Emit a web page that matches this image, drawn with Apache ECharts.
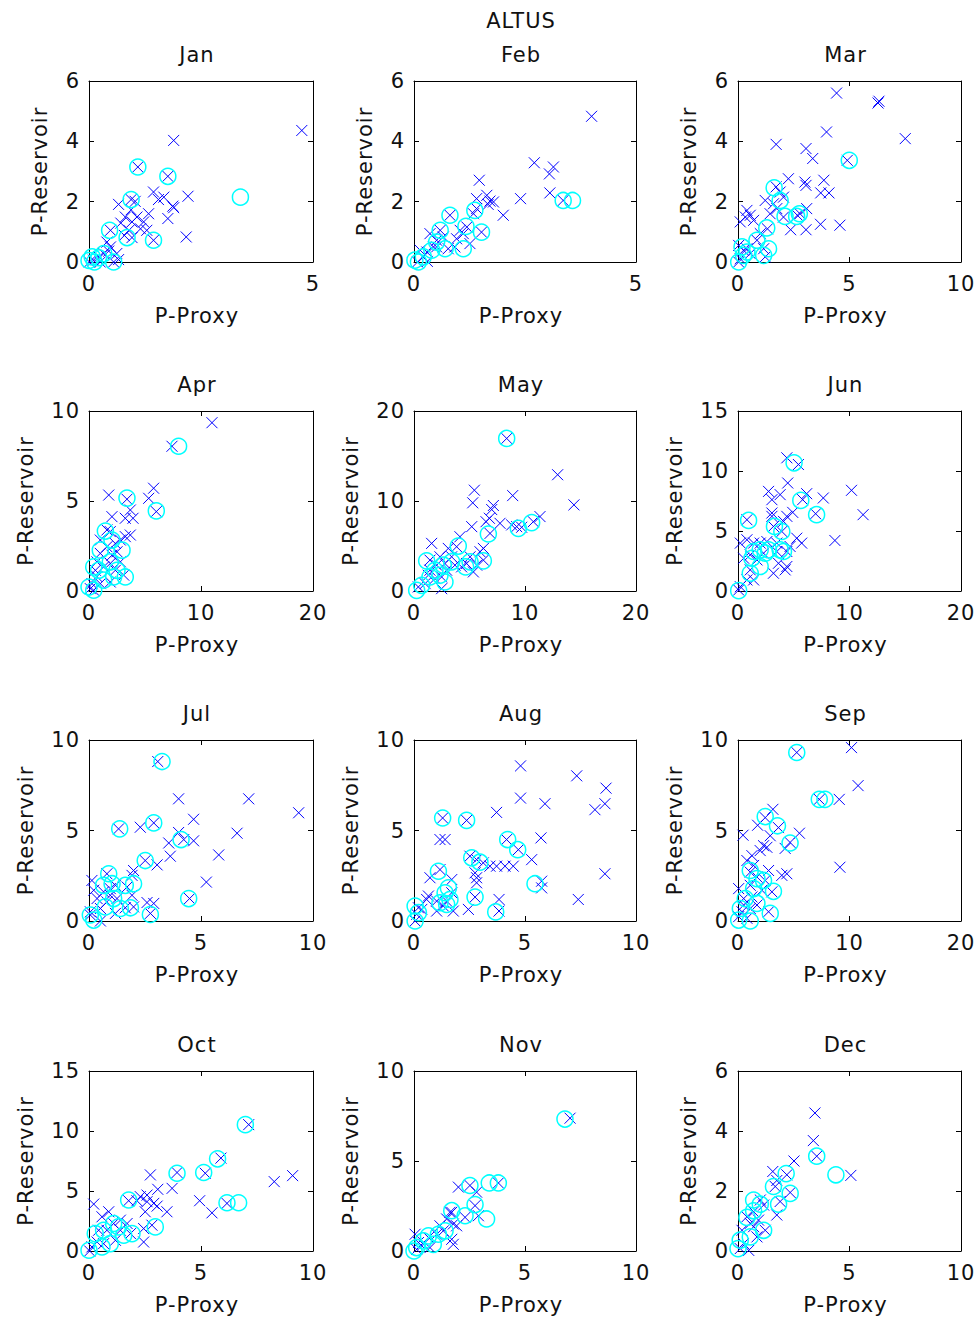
<!DOCTYPE html>
<html>
<head>
<meta charset="utf-8">
<script src="https://cdn.jsdelivr.net/npm/echarts@6/dist/echarts.min.js"></script>
<style>
  html, body { margin: 0; padding: 0; background: #fff; }
  #chart { width: 978px; height: 1321px; letter-spacing: 1px; }
</style>
</head>
<body>
<div id="chart"></div>
<script>
// Station and panel labels
const stationName = 'ALTUS';
const months = ['Jan', 'Feb', 'Mar', 'Apr', 'May', 'Jun', 'Jul', 'Aug', 'Sep', 'Oct', 'Nov', 'Dec'];
const xAxisTitle = 'P-Proxy';
const yAxisTitle = 'P-Reservoir';

// Axis ranges and tick steps per month
const xAxisMax  = [5, 5, 10, 20, 20, 20, 10, 10, 20, 10, 10, 10];
const xAxisStep = [5, 5, 5, 10, 10, 10, 5, 5, 10, 5, 5, 5];
const yAxisMax  = [6, 6, 6, 10, 20, 15, 10, 10, 10, 15, 10, 6];
const yAxisStep = [2, 2, 2, 5, 10, 5, 5, 5, 5, 5, 5, 2];

// Monthly pairs [proxy, reservoir]: crosses (all pairs) and rings (highlighted pairs)
const janCross = [[4.75,4.36],[1.89,4.03],[1.09,3.15],[1.76,2.84],[2.21,2.18],[1.44,2.32],[1.55,2.07],[1.67,2.15],[1.89,1.8],[1.87,1.85],[1.76,1.44],[2.17,0.83],[1.44,0.72],[0.94,2.07],[1.03,2.01],[0.66,1.91],[0.94,1.73],[1.33,1.6],[1.22,1.33],[1.07,1.49],[0.96,1.33],[0.81,1.49],[0.71,1.29],[1.15,1.1],[1.29,1.05],[0.89,1.05],[0.79,0.88],[0.48,1.05],[0.96,0.81],[0.4,0.66],[0.48,0.5],[0.62,0.28],[0.66,0.08],[0.33,0.28],[0.22,0.17],[0.1,0.06],[0.01,0.0],[0.25,0.0],[0.55,0.0],[0.44,0.36]];
const janRing  = [[1.09,3.15],[1.76,2.84],[3.38,2.15],[0.94,2.07],[1.44,0.72],[0.46,1.05],[0.85,0.81],[0.55,0.0],[0.0,0.05],[0.12,0.0],[0.22,0.14],[0.33,0.28],[0.25,-0.05],[0.07,0.17]];

const febCross = [[4.0,4.83],[2.71,3.29],[3.14,3.15],[3.05,2.92],[3.06,2.29],[3.36,2.04],[2.4,2.1],[1.47,2.71],[1.41,2.1],[1.64,2.21],[1.71,2.02],[1.79,1.99],[1.67,1.91],[2.01,1.55],[1.41,1.77],[1.34,1.6],[0.81,1.55],[1.52,0.99],[1.19,1.16],[1.11,0.94],[1.26,0.61],[0.96,0.77],[0.77,0.44],[0.66,0.83],[0.51,0.72],[0.59,1.05],[0.36,0.94],[0.44,0.5],[0.29,0.33],[0.21,0.17],[0.08,0.0],[0.3,0.02],[1.04,1.05],[0.92,0.5],[0.51,0.5],[0.14,0.39]];
const febRing  = [[3.36,2.04],[3.57,2.04],[1.37,1.71],[0.81,1.55],[1.52,0.99],[1.17,1.18],[1.11,0.44],[0.59,1.05],[0.51,0.66],[0.7,0.44],[0.1,0.0],[0.02,0.06],[0.21,0.17],[0.4,0.39]];

const marCross = [[4.42,5.6],[6.32,5.33],[6.28,5.27],[7.5,4.09],[3.97,4.31],[1.71,3.9],[3.05,3.76],[3.35,3.43],[4.9,3.37],[2.26,2.76],[3.0,2.65],[3.05,2.54],[3.85,2.71],[3.71,2.29],[4.08,2.29],[1.71,2.49],[1.89,2.32],[2.04,2.15],[3.08,1.77],[2.78,1.6],[2.66,1.55],[1.22,2.04],[1.59,1.93],[1.74,1.77],[1.44,1.6],[2.04,1.49],[2.36,1.07],[3.05,1.07],[3.7,1.25],[4.57,1.22],[1.32,1.1],[0.4,1.71],[0.55,1.55],[0.33,1.49],[0.7,1.38],[0.1,1.33],[1.0,0.94],[0.85,0.72],[1.15,0.44],[0.03,0.55],[0.25,0.39],[0.55,0.28],[0.1,0.11],[0.03,0.0],[1.22,0.17],[0.4,0.44]];
const marRing  = [[4.99,3.37],[1.62,2.46],[1.89,2.04],[2.11,1.51],[2.75,1.6],[2.63,1.51],[1.29,1.13],[1.37,0.44],[1.15,0.22],[0.85,0.72],[0.18,0.5],[0.4,0.33],[0.03,0.0],[0.25,0.22]];

const aprCross = [[10.98,9.35],[7.41,8.04],[5.77,5.71],[5.33,5.15],[1.76,5.33],[3.39,5.1],[6.01,4.41],[3.69,4.5],[2.05,4.13],[3.24,4.04],[3.93,4.04],[1.9,3.3],[1.6,3.39],[3.69,3.11],[3.24,3.02],[2.8,2.83],[2.35,2.64],[1.01,2.83],[1.6,2.46],[1.01,2.09],[2.05,1.99],[2.5,2.18],[0.71,1.62],[1.31,1.34],[1.9,1.53],[2.35,1.15],[3.1,0.88],[0.71,0.8],[1.9,0.5],[0.27,0.41],[0.12,0.13],[0.42,0.04],[1.01,0.41],[2.8,1.62],[0.57,1.15]];
const aprRing  = [[8.0,8.04],[3.39,5.16],[6.01,4.45],[1.46,3.33],[2.95,2.27],[1.01,2.27],[2.05,2.83],[0.42,1.34],[1.9,1.62],[0.86,1.15],[3.24,0.78],[2.2,0.78],[1.31,0.6],[0.0,0.22],[0.42,0.04],[2.5,1.15]];

const mayCross = [[8.35,16.95],[12.94,12.92],[14.41,9.57],[5.44,11.2],[5.29,9.8],[8.89,10.6],[7.15,9.5],[7.0,9.05],[6.79,8.08],[6.49,7.7],[7.75,7.52],[5.2,7.15],[9.25,7.15],[9.7,7.08],[10.75,7.7],[11.35,8.27],[8.8,7.34],[6.85,6.4],[4.14,6.03],[1.59,5.29],[3.84,4.92],[3.09,4.73],[5.95,4.36],[6.25,4.73],[5.05,3.8],[4.74,3.05],[5.65,2.87],[5.35,2.12],[2.34,3.8],[2.04,2.87],[2.79,3.05],[1.44,2.31],[2.94,2.31],[3.69,2.87],[2.49,1.56],[1.89,1.38],[1.0,0.82],[1.29,1.75],[2.49,0.26],[0.39,0.45],[6.25,3.43],[4.29,2.68],[3.39,3.8],[1.44,3.43]];
const mayRing  = [[8.35,16.95],[6.7,6.33],[9.4,6.96],[10.6,7.6],[3.99,4.99],[1.14,3.35],[6.25,3.35],[4.65,2.68],[2.64,2.87],[3.39,3.24],[1.89,2.31],[1.44,1.56],[2.34,1.75],[2.79,1.0],[0.24,0.07],[5.05,3.24],[0.69,0.63]];

const junCross = [[4.38,11.1],[5.42,10.54],[10.18,8.39],[4.46,9.0],[2.74,8.3],[3.78,8.03],[3.04,7.61],[6.16,8.11],[5.8,7.61],[7.65,7.75],[6.96,6.44],[11.22,6.36],[3.04,6.5],[4.38,6.22],[4.91,6.55],[4.08,5.8],[0.8,5.94],[3.93,4.96],[3.18,5.38],[8.69,4.21],[5.71,3.99],[0.21,3.99],[0.8,4.27],[1.4,3.99],[1.99,3.99],[2.59,4.12],[3.48,3.99],[4.67,3.71],[4.38,3.29],[3.48,3.29],[2.29,3.15],[1.1,3.01],[0.51,2.73],[1.7,2.59],[3.63,2.31],[4.38,2.04],[4.23,1.76],[3.18,1.48],[1.1,1.76],[1.4,0.92],[0.8,0.92],[0.21,0.36],[0.06,0.08],[3.04,6.22],[5.27,4.4]];
const junRing  = [[5.03,10.68],[5.63,7.55],[7.05,6.36],[0.95,5.88],[3.27,5.38],[3.93,4.96],[1.99,3.43],[2.74,3.43],[1.4,3.29],[4.08,3.29],[3.78,3.43],[1.25,2.73],[1.99,2.04],[1.1,1.48],[0.06,0.03],[2.44,3.15]];

const julCross = [[3.07,8.81],[4.0,6.75],[7.13,6.75],[9.36,5.98],[4.67,5.62],[1.32,5.09],[2.29,5.18],[2.89,5.42],[4.0,4.89],[4.23,4.5],[4.67,4.43],[3.56,4.31],[6.61,4.85],[5.79,3.65],[2.51,3.34],[3.63,3.58],[3.04,3.1],[5.24,2.15],[4.49,1.24],[1.99,2.79],[1.92,2.52],[0.13,2.24],[0.8,2.61],[1.18,1.97],[0.95,1.79],[0.65,1.61],[0.21,1.7],[1.7,1.88],[1.92,1.42],[1.25,1.24],[0.8,1.06],[2.59,1.02],[2.89,0.97],[1.99,0.78],[2.74,0.42],[1.62,0.73],[0.51,0.69],[1.18,0.42],[0.06,0.33],[0.51,0.0],[0.06,0.51],[0.95,1.42],[0.36,1.24]];
const julRing  = [[3.26,8.81],[2.89,5.42],[1.37,5.09],[4.11,4.5],[2.51,3.34],[0.88,2.61],[1.99,2.06],[1.62,1.97],[1.03,2.06],[0.65,1.97],[4.45,1.24],[1.85,0.73],[1.4,0.69],[0.73,0.78],[2.74,0.36],[0.06,0.33],[0.21,0.05],[1.1,1.24]];

const augCross = [[4.8,8.57],[7.33,8.02],[8.65,7.34],[4.8,6.79],[5.9,6.48],[8.6,6.48],[8.15,6.15],[3.72,6.0],[1.29,5.69],[2.37,5.56],[5.72,4.59],[1.17,4.5],[1.4,4.5],[4.17,4.5],[4.7,3.94],[5.3,3.39],[2.52,3.58],[2.82,3.39],[3.12,3.21],[3.42,3.03],[3.72,3.03],[4.1,3.03],[4.47,3.03],[2.75,2.66],[2.82,2.39],[2.82,2.11],[1.17,2.84],[0.72,2.39],[1.7,2.29],[5.75,2.2],[5.75,1.83],[8.6,2.61],[7.4,1.19],[3.83,1.19],[3.83,0.55],[2.75,1.32],[2.45,0.64],[0.65,1.38],[0.57,1.19],[1.02,1.1],[1.47,1.1],[1.7,1.56],[1.32,0.83],[1.77,0.55],[1.02,0.55],[0.2,0.73],[0.12,0.37],[0.05,0.0],[0.35,0.64]];
const augRing  = [[1.29,5.69],[2.37,5.56],[4.22,4.5],[4.67,3.94],[2.6,3.49],[2.97,3.25],[1.1,2.75],[5.45,2.06],[1.55,1.83],[1.4,1.56],[2.75,1.32],[1.47,0.92],[1.17,1.01],[3.68,0.5],[0.05,0.83],[0.2,0.46],[0.05,0.0],[1.62,1.19]];

const sepCross = [[5.27,9.31],[10.18,9.58],[10.77,7.48],[9.08,6.72],[7.29,6.72],[9.14,2.97],[3.13,6.17],[2.44,5.71],[1.76,5.29],[3.63,5.16],[5.51,4.85],[0.45,4.74],[2.89,4.71],[4.67,4.34],[4.23,4.01],[2.29,4.16],[2.59,4.07],[1.99,3.89],[1.25,3.61],[0.8,3.34],[1.4,3.07],[2.74,2.79],[3.93,2.52],[4.38,2.61],[1.1,2.7],[1.7,2.43],[2.44,2.24],[0.06,1.79],[1.1,1.97],[2.14,1.7],[3.04,1.61],[1.25,1.33],[1.7,0.88],[2.74,0.51],[0.51,0.88],[0.36,0.51],[0.06,0.24],[0.8,0.15],[1.1,0.69],[0.51,1.24]];
const sepRing  = [[5.27,9.31],[7.29,6.72],[7.8,6.72],[2.44,5.77],[3.54,5.26],[4.67,4.31],[1.1,2.79],[1.7,2.34],[2.29,2.24],[3.18,1.64],[1.4,1.79],[0.65,1.24],[1.7,0.97],[2.89,0.42],[0.06,0.05],[1.1,0.0],[0.21,0.69]];

const octCross = [[7.13,10.53],[5.89,7.74],[9.09,6.28],[8.27,5.78],[5.19,6.48],[3.93,6.54],[2.74,6.34],[3.71,5.22],[3.07,5.14],[4.94,4.19],[6.16,3.97],[5.49,3.18],[3.48,3.27],[3.04,3.74],[2.59,4.66],[2.29,4.53],[2.59,4.11],[2.51,3.27],[2.89,3.97],[1.77,4.19],[2.14,4.19],[2.81,2.15],[2.44,1.87],[2.44,0.75],[1.85,1.45],[0.21,3.91],[0.58,2.85],[0.88,3.27],[1.4,2.57],[1.1,2.29],[0.43,1.73],[0.8,1.73],[1.18,0.89],[0.65,0.61],[0.13,0.34],[0.03,0.0],[0.36,0.75],[1.4,1.73],[1.7,2.29]];
const octRing  = [[6.98,10.53],[5.74,7.68],[3.93,6.48],[5.12,6.54],[1.77,4.25],[6.16,4.02],[6.68,4.02],[2.96,2.01],[1.92,1.45],[1.1,2.29],[1.32,2.01],[0.65,1.73],[0.28,1.45],[0.95,0.61],[0.0,0.06],[0.58,0.34],[1.55,1.31]];

const novCross = [[7.03,7.38],[3.8,3.78],[2.52,3.64],[2.0,3.55],[2.82,3.27],[2.75,2.52],[2.9,1.96],[2.3,1.87],[1.7,2.15],[1.47,1.78],[1.77,1.5],[1.32,1.12],[1.17,1.4],[1.02,0.93],[1.77,0.37],[1.7,0.65],[0.65,0.75],[0.42,0.37],[0.05,0.93],[0.2,0.47],[0.12,0.09],[0.72,0.19],[1.62,2.15],[1.92,1.4]];
const novRing  = [[6.8,7.33],[3.39,3.78],[3.8,3.78],[2.52,3.64],[2.75,2.58],[3.27,1.78],[2.3,1.96],[1.7,2.24],[1.4,1.12],[1.1,0.93],[0.65,0.84],[0.42,0.56],[0.12,0.19],[0.0,0.0],[0.87,0.37]];

const decCross = [[3.45,4.6],[3.38,3.68],[3.53,3.16],[5.06,2.52],[2.51,3.0],[1.56,2.65],[2.19,2.54],[1.74,2.35],[1.67,2.15],[2.34,1.95],[1.89,1.65],[1.74,1.2],[1.0,1.7],[1.15,1.53],[0.7,1.31],[0.4,1.14],[0.55,0.92],[1.22,0.69],[0.85,0.47],[0.25,0.25],[0.1,0.08],[0.48,0.02],[0.18,0.69],[0.7,0.81],[0.92,1.03]];
const decRing  = [[3.53,3.16],[4.39,2.54],[2.16,2.58],[1.59,2.15],[2.34,1.92],[1.82,1.56],[1.0,1.56],[0.7,1.34],[0.4,1.12],[1.15,0.69],[0.55,0.47],[0.1,0.36],[0.0,0.08],[0.7,1.7]];

const crossSets = [janCross, febCross, marCross, aprCross, mayCross, junCross, julCross, augCross, sepCross, octCross, novCross, decCross];
const ringSets  = [janRing, febRing, marRing, aprRing, mayRing, junRing, julRing, augRing, sepRing, octRing, novRing, decRing];

// Panel layout (pixels)
const colLeft = [89, 414, 738];
const colWidth = [224, 222, 223];
const rowTop = [81, 411, 740, 1071];
const rowHeight = [181, 180, 181, 180];

const FONT = 'DejaVu Sans';
const FS = 21;
const INK = '#111';

const grids = [], xAxes = [], yAxes = [], series = [], texts = [];

months.forEach((m, i) => {
  const c = i % 3, r = Math.floor(i / 3);
  grids.push({ left: colLeft[c], top: rowTop[r], width: colWidth[c], height: rowHeight[r], show: false });
  texts.push({
    type: 'text', x: colLeft[c] + colWidth[c] / 2 - 4, y: rowTop[r] - 26,
    style: { text: m, fontFamily: FONT, fontSize: FS, fill: INK, align: 'center', verticalAlign: 'middle' }
  });
});

const tickStyle = { inside: true, length: 5, lineStyle: { color: '#000', width: 1 } };
const lineStyle = { show: true, onZero: false, lineStyle: { color: '#000', width: 1 } };

// Bottom/left axes with labels; the y title sits further out when tick labels have two digits
months.forEach((m, i) => {
  xAxes.push({
    gridIndex: i, type: 'value', min: 0, max: xAxisMax[i], interval: xAxisStep[i],
    position: 'bottom', axisLine: lineStyle, axisTick: tickStyle, splitLine: { show: false },
    axisLabel: { color: INK, fontFamily: FONT, fontSize: FS, margin: 11 },
    name: xAxisTitle, nameLocation: 'middle', nameGap: 43,
    nameTextStyle: { color: INK, fontFamily: FONT, fontSize: FS, padding: [0, 8, 0, 0] }
  });
  yAxes.push({
    gridIndex: i, type: 'value', min: 0, max: yAxisMax[i], interval: yAxisStep[i],
    position: 'left', axisLine: lineStyle, axisTick: tickStyle, splitLine: { show: false },
    axisLabel: { color: INK, fontFamily: FONT, fontSize: FS, margin: 9 },
    name: yAxisTitle, nameLocation: 'middle', nameGap: yAxisMax[i] >= 10 ? 53 : 39, nameRotate: 90,
    nameTextStyle: { color: INK, fontFamily: FONT, fontSize: FS }
  });
});
// Top/right mirror axes close the box and repeat the ticks
months.forEach((m, i) => {
  xAxes.push({
    gridIndex: i, type: 'value', min: 0, max: xAxisMax[i], interval: xAxisStep[i],
    position: 'top', axisLine: lineStyle, axisTick: tickStyle, splitLine: { show: false },
    axisLabel: { show: false }
  });
  yAxes.push({
    gridIndex: i, type: 'value', min: 0, max: yAxisMax[i], interval: yAxisStep[i],
    position: 'right', axisLine: lineStyle, axisTick: tickStyle, splitLine: { show: false },
    axisLabel: { show: false }
  });
});

months.forEach((m, i) => {
  series.push({
    type: 'scatter', xAxisIndex: i, yAxisIndex: i, data: crossSets[i],
    symbol: 'path://M0,0L10,10M10,0L0,10', symbolSize: 11,
    itemStyle: { color: 'rgba(0,0,0,0)', borderColor: '#0000ff', borderWidth: 1, opacity: 1 },
    emphasis: { disabled: true }, z: 2
  });
});
months.forEach((m, i) => {
  series.push({
    type: 'scatter', xAxisIndex: i, yAxisIndex: i, data: ringSets[i],
    symbol: 'circle', symbolSize: 16,
    itemStyle: { color: 'rgba(0,0,0,0)', borderColor: '#00ffff', borderWidth: 1.5, opacity: 1 },
    emphasis: { disabled: true }, z: 3
  });
});

texts.push({
  type: 'text', x: 521, y: 21,
  style: { text: stationName, fontFamily: FONT, fontSize: FS, fill: INK, align: 'center', verticalAlign: 'middle' }
});

const chart = echarts.init(document.getElementById('chart'), null, { renderer: 'svg' });
chart.setOption({
  backgroundColor: '#fff',
  animation: false,
  grid: grids,
  xAxis: xAxes,
  yAxis: yAxes,
  series: series,
  graphic: texts
});
</script>
</body>
</html>
